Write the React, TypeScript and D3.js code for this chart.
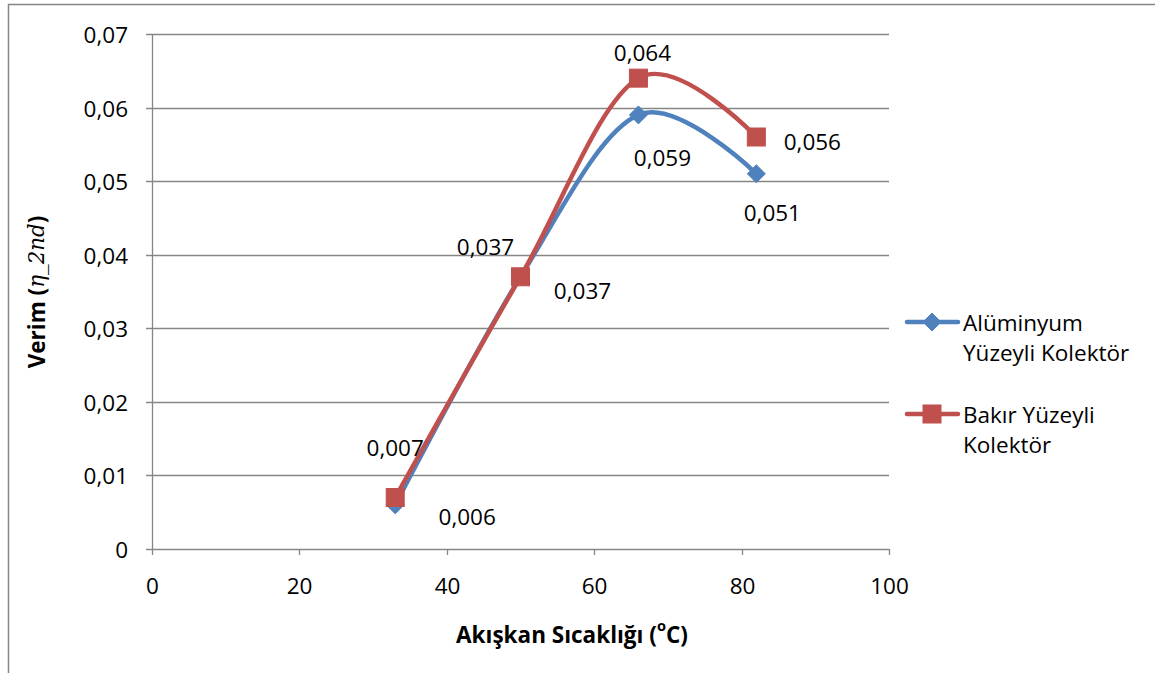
import { useEffect, useRef } from "react";
import * as d3 from "d3";

// chart values
const temps = [33, 50, 66, 82];
const aluminium = [0.006, 0.037, 0.059, 0.051];
const copper = [0.007, 0.037, 0.064, 0.056];
const xTicks = [0, 20, 40, 60, 80, 100];
const yTicks = [0, 0.01, 0.02, 0.03, 0.04, 0.05, 0.06, 0.07];
const seriesNames = ["Alüminyum\nYüzeyli Kolektör", "Bakır Yüzeyli\nKolektör"];

const W = 1155;
const H = 673;
const PLOT = { left: 152, right: 889, top: 34, bottom: 549 };
const BLUE = "#4F81BD";
const RED = "#C0504D";
const GRID = "#868686";
const FONT = "'Open Sans', sans-serif";
const FS = 22.5;

// label offsets (px) from each point, per series
const blueOffsets = [[72, 12], [62, 14], [24, 43], [16, 39]];
const redOffsets = [[0, -50], [-35, -30], [4, -26], [56, 4]];

const fmt = (v: number) => d3.format(".3f")(v).replace(".", ",");

export default function App() {
  const ref = useRef<SVGSVGElement>(null);

  useEffect(() => {
    const svg = d3.select(ref.current);
    svg.selectAll("*").remove();

    const x = d3.scaleLinear().domain([0, 100]).range([PLOT.left, PLOT.right]);
    const y = d3.scaleLinear().domain([0, 0.07]).range([PLOT.bottom, PLOT.top]);

    svg.append("rect").attr("width", W).attr("height", H).attr("fill", "#fff");
    // chart border (cropped right/bottom)
    svg.append("path")
      .attr("d", `M8.5,${H + 2}V4.5H${W + 2}`)
      .attr("fill", "none")
      .attr("stroke", GRID)
      .attr("stroke-width", 1.5);

    // gridlines + y ticks
    const gy = svg.append("g");
    yTicks.forEach((t) => {
      const yy = Math.round(y(t)) + 0.5;
      gy.append("line")
        .attr("x1", PLOT.left - 6).attr("x2", PLOT.right)
        .attr("y1", yy).attr("y2", yy)
        .attr("stroke", GRID).attr("stroke-width", 1.3);
      gy.append("text")
        .attr("x", PLOT.left - 24).attr("y", yy)
        .attr("text-anchor", "end").attr("dominant-baseline", "central")
        .attr("font-family", FONT).attr("font-size", FS)
        .text(t === 0 ? "0" : d3.format(".2f")(t).replace(".", ","));
    });

    // x axis
    const gx = svg.append("g");
    gx.append("line")
      .attr("x1", PLOT.left + 0.5).attr("x2", PLOT.left + 0.5)
      .attr("y1", PLOT.top).attr("y2", PLOT.bottom)
      .attr("stroke", GRID).attr("stroke-width", 1.3);
    xTicks.forEach((t) => {
      const xx = Math.round(x(t)) + 0.5;
      gx.append("line")
        .attr("x1", xx).attr("x2", xx)
        .attr("y1", PLOT.bottom).attr("y2", PLOT.bottom + 6)
        .attr("stroke", GRID).attr("stroke-width", 1.3);
      gx.append("text")
        .attr("x", xx).attr("y", PLOT.bottom + 36)
        .attr("text-anchor", "middle").attr("dominant-baseline", "central")
        .attr("font-family", FONT).attr("font-size", FS)
        .text(String(t));
    });

    const line = d3.line<[number, number]>()
      .x((d) => x(d[0]))
      .y((d) => y(d[1]))
      .curve(d3.curveCatmullRom.alpha(0));

    const series = [
      { vals: aluminium, color: BLUE, marker: "diamond", offsets: blueOffsets },
      { vals: copper, color: RED, marker: "square", offsets: redOffsets },
    ];

    const drawMarker = (g: any, cx: number, cy: number, kind: string, color: string) => {
      if (kind === "diamond") {
        const r = 9;
        g.append("path")
          .attr("d", `M${cx},${cy - r}L${cx + r},${cy}L${cx},${cy + r}L${cx - r},${cy}Z`)
          .attr("fill", color).attr("stroke", color).attr("stroke-width", 1);
      } else {
        const s = 18;
        g.append("rect")
          .attr("x", cx - s / 2).attr("y", cy - s / 2)
          .attr("width", s).attr("height", s)
          .attr("fill", color).attr("stroke", RED).attr("stroke-width", 1);
      }
    };

    series.forEach((s) => {
      const pts = temps.map((t, i) => [t, s.vals[i]] as [number, number]);
      svg.append("path")
        .datum(pts)
        .attr("d", line)
        .attr("fill", "none")
        .attr("stroke", s.color)
        .attr("stroke-width", 4.5)
        .attr("stroke-linecap", "round");
    });

    series.forEach((s) => {
      const g = svg.append("g");
      temps.forEach((t, i) => drawMarker(g, x(t), y(s.vals[i]), s.marker, s.color));
    });

    series.forEach((s) => {
      temps.forEach((t, i) => {
        svg.append("text")
          .attr("x", x(t) + s.offsets[i][0])
          .attr("y", y(s.vals[i]) + s.offsets[i][1])
          .attr("text-anchor", "middle").attr("dominant-baseline", "central")
          .attr("font-family", FONT).attr("font-size", FS)
          .text(fmt(s.vals[i]));
      });
    });

    // legend
    const legendY = [322, 414];
    series.forEach((s, i) => {
      const g = svg.append("g");
      g.append("line")
        .attr("x1", 907).attr("x2", 958)
        .attr("y1", legendY[i]).attr("y2", legendY[i])
        .attr("stroke", s.color).attr("stroke-width", 4.5)
        .attr("stroke-linecap", "round");
      drawMarker(g, 932, legendY[i], s.marker, s.color);
      const lines = seriesNames[i].split("\n");
      lines.forEach((ln, j) => {
        g.append("text")
          .attr("x", 963).attr("y", legendY[i] + j * 30)
          .attr("dominant-baseline", "central")
          .attr("font-family", FONT).attr("font-size", FS)
          .text(ln);
      });
    });

    // x title
    const xt = svg.append("text")
      .attr("x", 572).attr("y", 634)
      .attr("text-anchor", "middle").attr("dominant-baseline", "central")
      .attr("font-family", FONT).attr("font-size", FS).attr("font-weight", "bold");
    xt.append("tspan").text("Akışkan Sıcaklığı (");
    xt.append("tspan").attr("font-size", FS * 0.65).attr("dy", -9).text("o");
    xt.append("tspan").attr("dy", 9).text("C)");

    // y title
    const yt = svg.append("text")
      .attr("transform", "translate(36,292) rotate(-90)")
      .attr("text-anchor", "middle").attr("dominant-baseline", "central")
      .attr("font-family", FONT).attr("font-size", FS).attr("font-weight", "bold");
    yt.append("tspan").text("Verim (");
    yt.append("tspan")
      .attr("font-family", "'DejaVu Serif', serif")
      .attr("font-style", "italic").attr("font-weight", "normal")
      .attr("font-size", FS * 0.95)
      .text("η_2nd");
    yt.append("tspan").text(")");
  }, []);

  return (
    <svg
      ref={ref}
      width={W}
      height={H}
      style={{ position: "absolute", left: 0, top: 0 }}
    />
  );
}
